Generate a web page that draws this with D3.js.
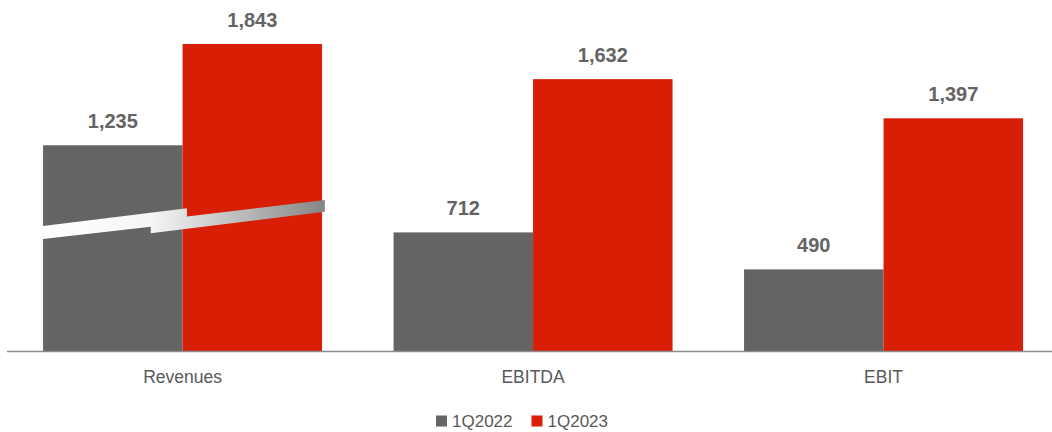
<!DOCTYPE html>
<html><head><meta charset="utf-8">
<script src="https://cdn.jsdelivr.net/npm/d3@7"></script>
<style>body{margin:0;background:#fff}svg{display:block}</style>
</head><body>
<svg id="c" width="1052" height="432"></svg>
<script>
const categories = ["Revenues", "EBITDA", "EBIT"];
const seriesNames = ["1Q2022", "1Q2023"];
const values1Q2022 = [1235, 712, 490];
const values1Q2023 = [1843, 1632, 1397];
const colors = ["#646464", "#d81e05"];

const svg = d3.select("#c");
const W = 1052, H = 432;
const base = 351;

const x = d3.scaleBand().domain(categories).range([8, 1058.1]).paddingInner(0.204).paddingOuter(0.1);
const xs = d3.scaleBand().domain(seriesNames).range([0, x.bandwidth()]);
const y = d3.scaleLinear().domain([0, 1843]).range([base, 44]);

const data = categories.map((c, i) => ({cat: c, vals: [values1Q2022[i], values1Q2023[i]]}));

const g = svg.append("g");
data.forEach(d => {
  d.vals.forEach((v, j) => {
    const bx = x(d.cat) + xs(seriesNames[j]);
    g.append("rect").attr("x", bx).attr("y", y(v))
      .attr("width", xs.bandwidth()).attr("height", base - y(v))
      .attr("fill", colors[j]);
    g.append("text").attr("x", bx + xs.bandwidth() / 2).attr("y", y(v) - 17)
      .attr("text-anchor", "middle")
      .attr("font-family", "Liberation Sans, Arial, sans-serif")
      .attr("font-weight", "bold").attr("font-size", 20)
      .attr("fill", "#646464")
      .text(d3.format(",")(v));
  });
});

// decorative growth arrow across Revenues bars
const defs = svg.append("defs");
const bx0 = x("Revenues"), bw = x.bandwidth();
const gr = defs.append("linearGradient").attr("id", "arr").attr("gradientUnits", "userSpaceOnUse")
  .attr("x1", bx0).attr("x2", bx0 + bw * 1.01).attr("y1", 0).attr("y2", 0);
gr.append("stop").attr("offset", 0).attr("stop-color", "#ffffff");
gr.append("stop").attr("offset", 0.38).attr("stop-color", "#f6f6f6");
gr.append("stop").attr("offset", 1).attr("stop-color", "#858585");
const arrowPts = [[0, 750], [0.516, 857], [0.516, 807], [1.01, 906], [1.01, 836], [0.386, 707], [0.386, 746], [0, 673]];
svg.append("path")
  .attr("d", d3.line()(arrowPts.map(p => [bx0 + p[0] * bw, y(p[1])])) + "Z")
  .attr("fill", "url(#arr)");

// axis baseline
svg.append("line").attr("x1", 7).attr("x2", W).attr("y1", base + 0.5).attr("y2", base + 0.5)
  .attr("stroke", "#8c8c8c").attr("stroke-width", 1.3);

// category labels
categories.forEach(c => {
  svg.append("text").attr("x", x(c) + x.bandwidth() / 2).attr("y", 383)
    .attr("text-anchor", "middle")
    .attr("font-family", "Liberation Sans, Arial, sans-serif")
    .attr("font-size", 17.5).attr("fill", "#595959").text(c);
});

// legend
const legendX = [436, 531.5];
seriesNames.forEach((s, i) => {
  svg.append("rect").attr("x", legendX[i]).attr("y", 415.5).attr("width", 11).attr("height", 11).attr("fill", colors[i]);
  svg.append("text").attr("x", legendX[i] + 16).attr("y", 427)
    .attr("font-family", "Liberation Sans, Arial, sans-serif")
    .attr("font-size", 17).attr("fill", "#595959").text(s);
});
</script>
</body></html>
